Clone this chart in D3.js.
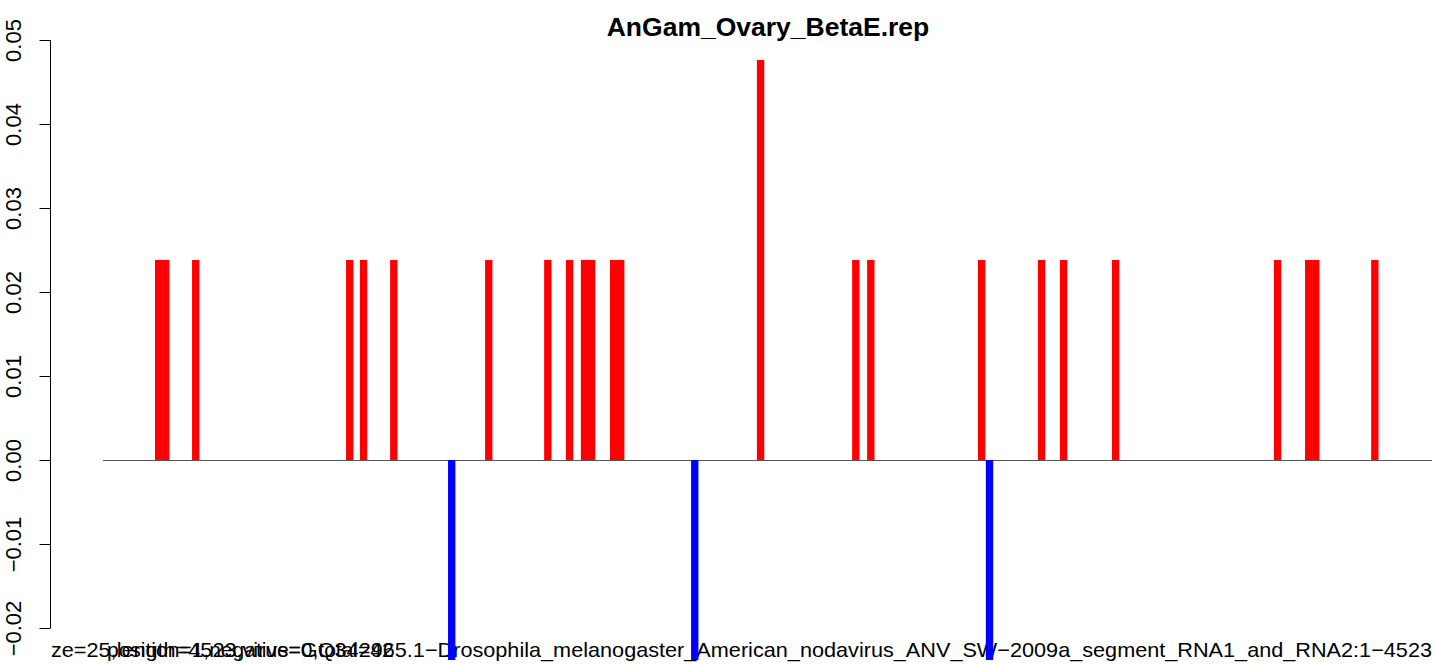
<!DOCTYPE html>
<html>
<head>
<meta charset="utf-8">
<script src="https://cdn.jsdelivr.net/npm/d3@7"></script>
<style>
  body { margin: 0; background: #fff; }
  text { font-family: "Liberation Sans", Arial, sans-serif; }
</style>
</head>
<body>
<div id="chart"></div>
<script>
var width = 1439, height = 664;

// reads of size 25 on the genome (start positions), sense strand
var posStarts = [178, 202, 304, 828, 875, 978, 1301, 1502, 1576, 1627, 1651, 1726, 1750,
                 2226, 2550, 2601, 2978, 3182, 3257, 3434, 3985, 4091, 4115, 4316];
var posCounts = [1, 1, 1, 1, 1, 1, 1, 1, 1, 1, 1, 1, 1,
                 2, 1, 1, 1, 1, 1, 1, 1, 1, 1, 1];
// antisense strand
var negStarts = [1175, 2002, 3005];
var negCounts = [1, 1, 1];

var total = 42;
var readSize = 25;
var genomeLength = 4523;
var yTicks = [-0.02, -0.01, 0.00, 0.01, 0.02, 0.03, 0.04, 0.05];

var title = "AnGam_Ovary_BetaE.rep";
var infoA = "ze=25,length=4523,virus=GQ342965.1\u2212Drosophila_melanogaster_American_nodavirus_ANV_SW\u22122009a_segment_RNA1_and_RNA2:1\u22124523";
var infoB = "position=1,negative=0,total=42";

var svg = d3.select("#chart")
    .append("svg")
    .attr("width", width)
    .attr("height", height);

var x = d3.scaleLinear().domain([1, genomeLength]).range([103, 1432]);
var y = d3.scaleLinear().domain([-0.02, 0.05]).range([628, 40]);

// title
svg.append("text")
    .attr("x", 768)
    .attr("y", 36)
    .attr("text-anchor", "middle")
    .attr("font-size", "26.5px")
    .attr("font-weight", "bold")
    .text(title);

// y axis
var yAxis = svg.append("g")
    .attr("transform", "translate(50.5,0)")
    .call(d3.axisLeft(y).tickValues(yTicks).tickSize(11).tickPadding(0)
        .tickFormat(function(d){ return d3.format(".2f")(d).replace("-", "\u2212"); }));
yAxis.select(".domain").attr("stroke", "#000").attr("d", "M0," + y(-0.02) + "V" + y(0.05));
yAxis.selectAll(".tick line").attr("stroke", "#000");
yAxis.selectAll(".tick text")
    .attr("font-size", "22px")
    .attr("fill", "#000")
    .attr("font-family", "Liberation Sans, Arial, sans-serif")
    .attr("text-anchor", "middle")
    .attr("dy", 0)
    .attr("transform", "translate(-29.5,0) rotate(-90)")
    .attr("x", 0)
    .attr("y", 0);

// bottom info lines (overprinted)
svg.append("text")
    .attr("x", 1432)
    .attr("y", 657)
    .attr("text-anchor", "end")
    .attr("font-size", "21px")
    .attr("textLength", 1381)
    .attr("lengthAdjust", "spacingAndGlyphs")
    .text(infoA);
svg.append("text")
    .attr("x", 107)
    .attr("y", 657)
    .attr("font-size", "21px")
    .text(infoB);

// zero line
svg.append("line")
    .attr("x1", x(1))
    .attr("x2", x(genomeLength))
    .attr("y1", y(0) + 0.5)
    .attr("y2", y(0) + 0.5)
    .attr("stroke", "#555")
    .attr("stroke-width", 1);

// bars
var posData = posStarts.map(function(p, i){ return {start: p, value: posCounts[i] / total}; });
var negData = negStarts.map(function(p, i){ return {start: p, value: -negCounts[i] / total}; });

svg.append("g")
    .selectAll("rect")
    .data(posData)
    .enter().append("rect")
    .attr("x", function(d){ return x(d.start); })
    .attr("width", function(d){ return x(d.start + readSize) - x(d.start); })
    .attr("y", function(d){ return y(d.value); })
    .attr("height", function(d){ return y(0) - y(d.value); })
    .attr("fill", "#ff0000");

svg.append("g")
    .selectAll("rect")
    .data(negData)
    .enter().append("rect")
    .attr("x", function(d){ return x(d.start); })
    .attr("width", function(d){ return x(d.start + readSize) - x(d.start); })
    .attr("y", y(0))
    .attr("height", function(d){ return y(d.value) - y(0); })
    .attr("fill", "#0000ff");
</script>
</body>
</html>
